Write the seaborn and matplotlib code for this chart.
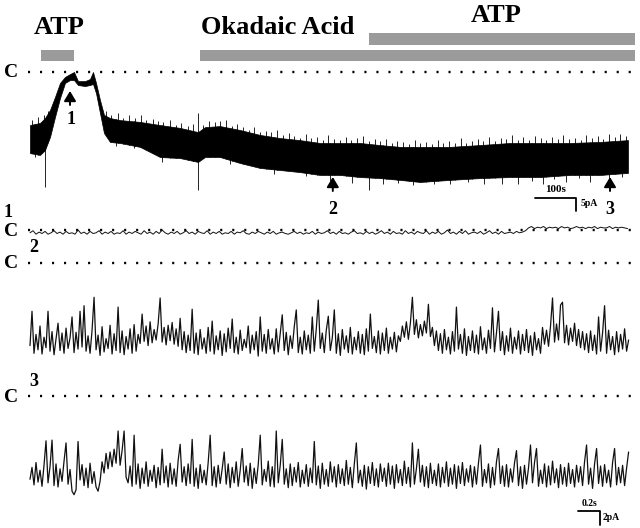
import numpy as np
import matplotlib
matplotlib.use("Agg")
import matplotlib.pyplot as plt
import seaborn as sns

sns.set_theme(style="white")
plt.rcParams["font.family"] = ["Liberation Serif", "DejaVu Serif"]
plt.rcParams["lines.scale_dashes"] = False

# ---------------- data ----------------
# slow whole-cell recording (time in s, current in pA relative to closed level C)
env_t = [0, 25, 37.5, 50, 62.5, 75, 87.5, 100, 110, 120, 137.5, 150, 157.5, 165, 175, 185, 200, 225,
         275, 325, 375, 420, 437.5, 475, 525, 575, 625, 675, 725, 775, 825, 875, 925, 975, 1050, 1125,
         1200, 1275, 1350, 1425, 1495]
env_top = [-20.4, -19.6, -17.7, -14.6, -9.6, -4.2, -1.9, -0.8, 0.0, -3.5, -3.5, -2.7, 0.0, -4.2, -10.8,
           -16.5, -17.7, -18.5, -19.2, -20.4, -21.5, -23.1, -21.2, -20.8, -22.3, -24.2, -25.4, -26.2,
           -27.3, -27.3, -27.3, -28.1, -28.8, -28.8, -28.8, -28.1, -27.3, -27.3, -27.3, -26.9, -26.2]
env_bot = [-31.2, -31.9, -30.0, -25.0, -17.3, -10.0, -4.2, -3.1, -3.1, -5.0, -5.4, -5.0, -4.6, -8.1,
           -15.8, -23.5, -26.9, -27.3, -28.8, -32.7, -33.1, -34.6, -32.7, -32.7, -35.0, -36.9, -37.7,
           -38.5, -39.6, -39.6, -40.4, -40.8, -41.5, -42.3, -41.5, -40.8, -40.4, -40.4, -39.6, -39.6, -38.8]
# upward noise spikes: time and height above the band (pA)
spike_t = [5, 20, 35, 45,
           190, 203, 220, 232, 248, 262, 277, 290, 307, 320,
           333, 350, 366, 378, 395, 408, 420, 433, 447, 462,
           475, 490, 505, 518, 533, 547, 560, 576, 590, 603,
           618, 632, 647, 660, 676, 690, 703, 718, 733, 746,
           760, 775, 790, 803, 818, 832, 848, 862, 876, 890,
           905, 918, 933, 948, 962, 976, 990, 1005, 1020, 1033,
           1048, 1062, 1077, 1090, 1105, 1120, 1133, 1148, 1162, 1177,
           1190, 1205, 1220, 1233, 1248, 1262, 1277, 1290, 1305, 1320,
           1333, 1348, 1362, 1377, 1390, 1405, 1420, 1433, 1448, 1462,
           1476, 1490]
spike_h = [1.9, 2.3, 1.5, 1.0,
           1.8, 1.2, 2.6, 1.0, 2.2, 1.5, 2.9, 1.1, 2.0, 1.6,
           1.3, 2.4, 1.0, 2.1, 1.4, 2.7, 7.3, 1.2, 2.3, 1.6,
           1.9, 2.8, 1.1, 2.2, 1.5, 1.0, 2.6, 1.3, 2.0, 1.7,
           2.9, 1.2, 2.1, 1.5, 1.0, 2.5, 1.4, 2.2, 1.1, 3.0,
           1.6, 1.2, 2.4, 1.0, 1.9, 2.7, 1.3, 2.0, 1.5, 2.6,
           1.1, 2.3, 1.7, 1.2, 2.8, 1.4, 2.0, 1.0, 2.5, 1.6,
           2.2, 1.3, 3.1, 1.1, 1.9, 2.4, 1.5, 2.7, 1.2, 2.1,
           1.6, 2.9, 1.3, 2.2, 1.0, 2.6, 1.8, 1.2, 2.4, 1.5,
           3.2, 1.4, 2.0, 1.1, 2.7, 1.6, 2.3, 1.2, 2.9, 1.7,
           2.4, 1.5]
# downward spikes: time and depth below the band (pA)
dip_t = [12, 37.5, 215, 260, 330, 420, 500, 610, 690, 750, 805, 847, 882, 920, 957, 1010, 1050, 1095,
         1135, 1180, 1220, 1255, 1282, 1310, 1340, 1372, 1400, 1447, 1480]
dip_d = [1.2, 14.4, 1.5, 1.0, 1.8, 10.8, 1.4, 1.6, 1.2, 2.3, 2.7, 5.0, 2.0, 1.3, 1.6, 1.1, 1.6, 1.3,
         2.3, 2.5, 2.7, 1.4, 2.6, 1.2, 2.5, 1.3, 2.7, 2.3, 1.5]

drug_names = ["ATP", "Okadaic Acid", "ATP"]
drug_start = [27.5, 425, 847]
drug_end = [110, 1512, 1512]
marker_t = [100, 757, 1450]
marker_labels = ["1", "2", "3"]

# fast single-channel segments 1, 2, 3 (pA relative to C)
dt_seg1 = 0.0273
dt_fast = 0.0182
trace1 = [-0.4, -0.1, -0.6, -0.3, -0.5, -0.2, -0.6, -0.4, -0.1, -0.5,
          -0.3, -0.6, -0.2, -0.5, -0.4, -0.6, 0.0, -0.5, -0.3, -0.6,
          -0.2, -0.5, -0.4, -0.1, -0.6, -0.3, -0.5, -0.2, -0.6, -0.4,
          -0.5, -0.1, -0.6, -0.3, -0.5, -0.2, -0.4, -0.6, -0.1, -0.5,
          -0.3, -0.6, -0.2, -0.5, 0.0, -0.4, -0.6, -0.3, -0.5, -0.2,
          -0.6, -0.4, -0.1, -0.5, -0.3, -0.6, -0.2, -0.4, -0.5, -0.1,
          -0.6, -0.3, -0.5, -0.2, -0.6, -0.4, -0.5, -0.2, -0.6, -0.3,
          -0.4, -0.1, -0.5, -0.6, -0.3, -0.5, -0.2, -0.4, -0.6, -0.3,
          -0.5, -0.2, -0.6, -0.4, -0.3, -0.5, -0.6, -0.4, -0.2, -0.5,
          -0.3, -0.6, -0.4, -0.5, -0.2, -0.6, -0.3, -0.5, -0.4, -0.1,
          -0.5, -0.3, -0.6, -0.2, -0.5, -0.4, -0.6, -0.3, -0.1, -0.5,
          -0.4, -0.6, -0.2, -0.5, -0.3, -0.6, -0.4, -0.1, -0.5, -0.3,
          -0.6, -0.2, -0.5, -0.4, -0.6, -0.1, -0.5, -0.3, -0.6, -0.2,
          -0.4, -0.5, -0.1, -0.6, -0.3, -0.5, -0.2, -0.6, -0.4, 0.0,
          -0.5, -0.3, -0.6, -0.2, -0.5, -0.1, -0.6, -0.4, -0.3, -0.5,
          -0.2, -0.6, -0.4, -0.1, -0.5, -0.3, -0.6, -0.2, -0.5, -0.4,
          -0.3, -0.5, -0.2, -0.4, -0.3, -0.1, 0.3, 0.5, 0.2, 0.4,
          0.3, 0.5, 0.2, 0.4, 0.3, 0.4, 0.2, 0.5, 0.3, 0.4,
          0.2, 0.3, 0.5, 0.3, 0.4, 0.2, 0.4, 0.3, 0.5, 0.2,
          0.4, 0.3, 0.3, 0.5, 0.2, 0.4, 0.3, 0.4, 0.3, 0.2]
trace2 = [-11.8, -6.9, -12.9, -10.2, -12.4, -9.0, -13.0, -10.6, -12.1, -6.9,
          -12.6, -9.8, -13.1, -10.9, -8.6, -12.5, -10.0, -12.9, -9.3, -12.2,
          -10.7, -7.7, -12.8, -9.9, -12.3, -6.9, -12.0, -6.1, -12.6, -10.4,
          -12.9, -9.6, -4.9, -12.4, -10.3, -13.2, -9.1, -12.7, -10.8, -12.2,
          -8.9, -13.0, -10.1, -12.5, -6.3, -12.8, -9.7, -13.1, -10.5, -12.3,
          -9.4, -12.9, -8.8, -12.6, -10.2, -11.5, -7.3, -11.2, -9.0, -11.8,
          -8.4, -11.4, -9.5, -11.0, -8.7, -5.0, -11.3, -9.2, -11.7, -8.9,
          -11.1, -8.5, -11.6, -9.4, -11.9, -7.9, -12.4, -9.8, -12.8, -10.3,
          -12.5, -6.6, -12.9, -10.0, -13.1, -9.5, -12.3, -10.7, -12.9, -9.2,
          -12.6, -8.3, -13.0, -10.4, -12.4, -9.7, -13.2, -10.1, -12.7, -9.3,
          -12.2, -8.0, -12.8, -10.6, -13.0, -9.6, -12.5, -10.9, -12.1, -9.0,
          -12.9, -10.3, -12.4, -9.8, -13.3, -7.7, -12.6, -10.2, -12.9, -9.5,
          -12.3, -10.8, -13.0, -9.4, -12.7, -10.1, -7.4, -12.5, -9.9, -13.1,
          -10.4, -12.2, -9.1, -6.7, -12.8, -10.6, -13.0, -9.7, -12.4, -10.3,
          -12.9, -7.7, -12.6, -9.4, -5.3, -12.2, -10.0, -12.8, -9.6, -7.6,
          -12.5, -10.7, -6.7, -12.9, -10.1, -13.2, -9.5, -12.3, -10.4, -12.8,
          -9.2, -13.0, -10.6, -12.4, -9.8, -12.9, -10.2, -13.1, -9.4, -12.6,
          -7.3, -12.2, -10.5, -12.8, -9.7, -13.0, -10.0, -12.5, -9.3, -12.9,
          -10.6, -12.3, -9.9, -12.7, -10.4, -11.2, -9.0, -10.6, -8.4, -10.9,
          -8.6, -4.9, -10.2, -8.1, -10.7, -8.8, -10.4, -8.3, -10.0, -5.9,
          -10.5, -9.2, -11.8, -9.7, -12.5, -10.1, -12.9, -9.5, -12.4, -10.6,
          -13.0, -9.8, -12.6, -6.3, -12.3, -10.2, -12.9, -9.4, -13.2, -10.5,
          -12.5, -9.7, -12.8, -10.3, -13.0, -9.1, -12.4, -10.7, -12.9, -9.6,
          -12.2, -6.4, -12.7, -10.0, -6.9, -12.5, -9.8, -13.1, -10.4, -12.6,
          -9.3, -12.9, -10.6, -12.3, -9.7, -13.0, -10.2, -12.5, -9.5, -12.8,
          -10.4, -13.2, -9.9, -12.4, -10.8, -12.9, -9.2, -11.6, -9.6, -11.9,
          -9.0, -5.0, -11.3, -8.7, -11.0, -6.0, -5.6, -11.4, -8.9, -11.7,
          -9.3, -11.2, -8.6, -11.8, -9.5, -12.1, -9.8, -12.4, -10.1, -12.8,
          -9.7, -12.5, -10.3, -13.0, -7.7, -12.6, -10.0, -6.1, -12.9, -9.6,
          -12.4, -10.5, -13.1, -9.8, -12.7, -10.2, -12.3, -9.4, -12.6, -11.0]
trace3 = [-11.9, -10.2, -12.7, -9.5, -12.3, -10.6, -12.9, -9.9, -6.4, -12.4,
          -10.1, -6.3, -12.8, -9.7, -13.0, -10.4, -12.2, -9.3, -6.7, -12.6,
          -10.5, -13.6, -14.1, -13.4, -6.5, -12.0, -9.8, -12.8, -10.3, -13.1,
          -9.6, -12.5, -10.8, -13.0, -13.6, -12.2, -9.4, -11.0, -8.2, -10.4,
          -8.0, -10.1, -7.6, -9.6, -5.0, -9.9, -7.8, -5.0, -11.6, -12.4,
          -10.0, -12.9, -5.6, -12.6, -9.7, -13.2, -10.3, -12.5, -9.4, -12.9,
          -10.6, -12.2, -9.9, -13.1, -10.2, -12.7, -7.6, -12.4, -10.0, -13.0,
          -9.6, -12.6, -10.4, -12.9, -9.2, -6.9, -12.3, -10.1, -12.8, -9.7,
          -12.5, -6.2, -12.9, -10.3, -13.2, -9.8, -12.4, -10.6, -12.7, -9.5,
          -5.6, -12.8, -10.1, -13.0, -9.9, -12.5, -10.4, -8.0, -12.6, -9.7,
          -13.1, -10.2, -12.4, -9.4, -12.9, -10.6, -7.5, -12.3, -10.0, -12.8,
          -9.6, -13.2, -10.3, -12.5, -9.8, -5.6, -12.7, -10.5, -12.2, -9.3,
          -12.9, -10.1, -13.0, -5.0, -12.4, -9.9, -6.2, -12.6, -10.4, -13.1,
          -9.7, -12.8, -10.2, -12.3, -9.5, -13.0, -10.6, -12.5, -9.8, -12.9,
          -10.3, -12.4, -6.5, -12.7, -10.0, -13.2, -9.6, -12.6, -10.5, -12.9,
          -9.4, -12.3, -10.1, -13.0, -9.8, -12.5, -10.4, -12.8, -9.2, -12.6,
          -10.2, -13.1, -9.7, -6.7, -12.4, -10.6, -12.9, -9.9, -13.3, -10.1,
          -12.5, -9.5, -12.8, -10.4, -13.0, -9.7, -12.2, -10.3, -12.9, -9.6,
          -12.6, -10.0, -13.2, -9.8, -12.4, -10.5, -12.8, -9.3, -12.5, -10.2,
          -13.0, -6.7, -12.6, -10.4, -7.6, -12.3, -9.9, -12.9, -10.1, -13.1,
          -9.6, -12.5, -10.6, -12.8, -9.7, -13.0, -10.2, -12.4, -9.4, -12.9,
          -10.3, -12.6, -9.8, -13.2, -10.0, -12.5, -9.5, -12.8, -10.4, -12.3,
          -9.9, -13.0, -10.1, -12.6, -9.6, -7.0, -12.9, -10.5, -12.4, -9.7,
          -13.1, -10.2, -12.7, -9.4, -7.5, -12.5, -10.0, -12.9, -9.8, -13.0,
          -10.4, -12.3, -9.6, -7.8, -12.8, -10.1, -13.2, -9.9, -12.6, -10.3,
          -7.0, -12.4, -9.5, -7.5, -12.9, -10.6, -12.5, -9.7, -13.0, -10.0,
          -12.7, -9.3, -12.4, -10.4, -13.1, -9.8, -12.6, -10.2, -12.9, -9.6,
          -12.5, -10.5, -13.0, -9.9, -12.3, -10.1, -12.8, -9.4, -7.0, -12.6,
          -10.3, -13.2, -9.7, -7.5, -12.5, -10.0, -12.9, -9.8, -12.4, -10.6,
          -13.0, -9.5, -7.5, -12.7, -10.2, -12.4, -9.9, -12.8, -10.3, -8.0]

# ---------------- layout (pixels) ----------------
W, H = 640, 528
fig = plt.figure(figsize=(W / 100, H / 100), dpi=100)
fig.patch.set_facecolor("white")


def fx(x):
    return x / W


def fy(y):
    return 1 - y / H


def overlay(x0_px, px_per_x, yc_px, px_per_y):
    ax = fig.add_axes([0, 0, 1, 1])
    ax.set_xlim(-x0_px / px_per_x, (W - x0_px) / px_per_x)
    ax.set_ylim(-(H - yc_px) / px_per_y, yc_px / px_per_y)
    ax.axis("off")
    ax.patch.set_alpha(0)
    return ax


DOT = dict(color="black", lw=1.7, ls=(0, (1.5, 7.15)), dash_capstyle="butt")
BOLD = dict(fontweight="bold", color="black")

# ---- main slow trace ----
axm = overlay(30, 0.4, 72, 2.6)
axm.plot([-5, 1515], [0, 0], **DOT)
axm.fill_between(env_t, env_bot, env_top, color="black", lw=0.5, edgecolor="black")
sp_top = np.interp(spike_t, env_t, env_top) + np.array(spike_h)
sp_base = np.interp(spike_t, env_t, env_bot)
axm.vlines(spike_t, sp_base, sp_top, color="black", lw=0.6)
dp_bot = np.interp(dip_t, env_t, env_bot) - np.array(dip_d)
dp_base = np.interp(dip_t, env_t, env_top)
axm.vlines(dip_t, dp_bot, dp_base, color="black", lw=0.6)

# drug application bars
bar_y = [6.35, 6.35, 12.7]
for name, s, e, yb in zip(drug_names, drug_start, drug_end, bar_y):
    axm.barh(yb, e - s, left=s, height=4.4, color="#9b9b9b", edgecolor="none")

# markers (arrows pointing up at the sampled time points)
for t, head_px in zip(marker_t, [91, 177, 177]):
    head = -(head_px - 72) / 2.6
    tail = head - 14 / 2.6
    axm.annotate("", xy=(t, head), xytext=(t, tail),
                 arrowprops=dict(arrowstyle="-|>,head_length=0.5,head_width=0.3", color="black",
                                 lw=1.4, mutation_scale=12, shrinkA=0, shrinkB=0))

# scale bar main: 100 s, 5 pA
axm.plot([1262.5, 1365, 1365], [-48.5, -48.5, -53.5], color="black", lw=1.3)

# ---- fast segments ----
seg_specs = [(trace1, dt_seg1, 230, 0.7), (trace2, dt_fast, 263, 0.9), (trace3, dt_fast, 396, 0.9)]
for tr, dt, yc, lw in seg_specs:
    ax = overlay(30, 110, yc, 7)
    ax.plot([-2 / 110, 606 / 110], [0, 0], **DOT)
    tt = np.arange(len(tr)) * dt
    sns.lineplot(x=tt, y=tr, ax=ax, color="#111111", lw=lw, estimator=None, sort=False)
    last_ax = ax

# bottom scale bar: 0.2 s, 2 pA
last_ax.plot([4.98, 5.18, 5.18], [-16.4, -16.4, -18.4], color="black", lw=1.3)

# ---------------- texts ----------------
fig.text(fx(59), fy(28), "ATP", fontsize=19, ha="center", va="center", **BOLD)
fig.text(fx(278), fy(28), "Okadaic Acid", fontsize=19, ha="center", va="center", **BOLD)
fig.text(fx(496), fy(15), "ATP", fontsize=19, ha="center", va="center", **BOLD)
for y in [72, 230, 263, 396]:
    fig.text(fx(11), fy(y + 1), "C", fontsize=14, ha="center", va="center", **BOLD)
for x, y, lab in [(71, 119, "1"), (333, 210, "2"), (610, 210, "3"),
                  (8, 213, "1"), (34, 248, "2"), (34, 382, "3")]:
    fig.text(fx(x), fy(y), lab, fontsize=13, ha="center", va="center", **BOLD)
fig.text(fx(556), fy(189), "100s", fontsize=8, ha="center", va="center", **BOLD)
fig.text(fx(581), fy(203), "5pA", fontsize=7, ha="left", va="center", **BOLD)
fig.text(fx(590), fy(503), "0.2s", fontsize=7, ha="center", va="center", **BOLD)
fig.text(fx(603), fy(518), "2pA", fontsize=7, ha="left", va="center", **BOLD)

fig.savefig("out.png", dpi=100, facecolor="white")
